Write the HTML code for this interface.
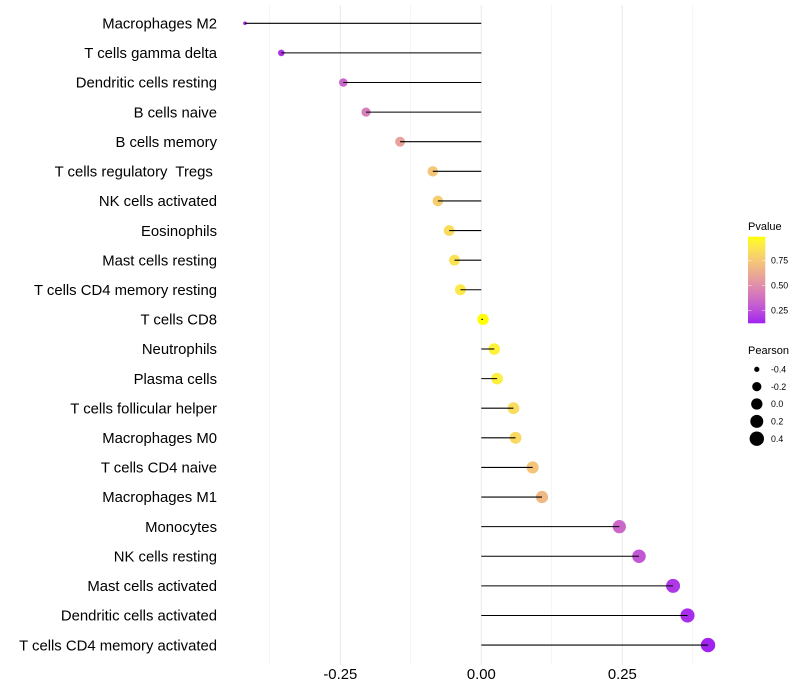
<!DOCTYPE html>
<html>
<head>
<meta charset="utf-8">
<title>Lollipop chart</title>
<style>
html,body{margin:0;padding:0;background:#fff;}
svg{display:block;font-family:"Liberation Sans",sans-serif;}
text{white-space:pre;}
</style>
</head>
<body>
<svg id="chart" width="800" height="700" viewBox="0 0 800 700" xmlns="http://www.w3.org/2000/svg">
<defs>
<linearGradient id="pg" x1="0" y1="1" x2="0" y2="0"></linearGradient>
</defs>
<g id="grid"></g>
<g id="points"></g>
<g id="stems"></g>
<g id="ylabels"></g>
<g id="xlabels"></g>
<g id="legend-color">
<text x="748" y="230" font-size="11" fill="#000">Pvalue</text>
<rect x="748" y="236.7" width="17.3" height="86.6" fill="url(#pg)"></rect>
</g>
<g id="legend-size">
<text x="748" y="354" font-size="11" fill="#000">Pearson</text>
</g>
</svg>
<script>
var categories = ["Macrophages M2","T cells gamma delta","Dendritic cells resting","B cells naive","B cells memory","T cells regulatory  Tregs ","NK cells activated","Eosinophils","Mast cells resting","T cells CD4 memory resting","T cells CD8","Neutrophils","Plasma cells","T cells follicular helper","Macrophages M0","T cells CD4 naive","Macrophages M1","Monocytes","NK cells resting","Mast cells activated","Dendritic cells activated","T cells CD4 memory activated"];
var pearson = [-0.419,-0.3546,-0.2447,-0.2044,-0.144,-0.086,-0.077,-0.057,-0.0475,-0.037,0.003,0.023,0.028,0.057,0.0607,0.091,0.1076,0.2447,0.2796,0.34,0.3656,0.402];
var pvalue = [0.12,0.17,0.34,0.43,0.58,0.74,0.77,0.83,0.86,0.89,0.986,0.93,0.915,0.83,0.82,0.73,0.68,0.34,0.28,0.18,0.15,0.125];
var majorTicks = [-0.25,0,0.25];
var minorTicks = [-0.375,-0.125,0.125,0.375];
var xTickLabels = ["-0.25","0.00","0.25"];
var colorTicks = [0.25,0.5,0.75];
var colorTickLabels = ["0.25","0.50","0.75"];
var sizeBreaks = [-0.4,-0.2,0,0.2,0.4];
var sizeLabels = ["-0.4","-0.2","0.0","0.2","0.4"];

var NS = "http://www.w3.org/2000/svg";
function xScale(v){ return 481.3 + 564 * v; }
function yScale(i){ return 23.28 + 29.61 * i; }
var sizeMin = -0.419, sizeMax = 0.402;
function rScale(p){
  var t = Math.min(1, Math.max(0, (p - sizeMin) / (sizeMax - sizeMin)));
  return 1.8 + 5.4 * Math.sqrt(t);
}
var pMin = 0.12, pMax = 0.986;
function cbY(p){ return 285.3 - (p - 0.5) * 100; }

function toLab(r,g,b){
  function f(c){ c/=255; return c<=0.04045? c/12.92 : Math.pow((c+0.055)/1.055,2.4); }
  var R=f(r),G=f(g),B=f(b);
  var X=(0.4124*R+0.3576*G+0.1805*B)/0.95047,Y=0.2126*R+0.7152*G+0.0722*B,Z=(0.0193*R+0.1192*G+0.9505*B)/1.08883;
  function h(t){ return t>0.008856? Math.cbrt(t) : 7.787*t+16/116; }
  return [116*h(Y)-16,500*(h(X)-h(Y)),200*(h(Y)-h(Z))];
}
function fromLab(L,a,b){
  var fy=(L+16)/116,fx=fy+a/500,fz=fy-b/200;
  function h(t){ return t*t*t>0.008856? t*t*t : (t-16/116)/7.787; }
  var X=h(fx)*0.95047,Y=h(fy),Z=h(fz)*1.08883;
  var R=3.2406*X-1.5372*Y-0.4986*Z,G=-0.9689*X+1.8758*Y+0.0415*Z,B=0.0557*X-0.204*Y+1.057*Z;
  function g(c){ c=c<=0.0031308?12.92*c:1.055*Math.pow(c,1/2.4)-0.055; return Math.round(Math.min(1,Math.max(0,c))*255); }
  return "rgb("+g(R)+","+g(G)+","+g(B)+")";
}
var labLow = toLab(160,32,240), labHigh = toLab(255,255,0);
function colorFor(p){
  var t=Math.min(1,Math.max(0,(p-pMin)/(pMax-pMin)));
  return fromLab(labLow[0]+(labHigh[0]-labLow[0])*t,labLow[1]+(labHigh[1]-labLow[1])*t,labLow[2]+(labHigh[2]-labLow[2])*t);
}
function make(tag,parentId,attrs,txt){
  var el=document.createElementNS(NS,tag);
  for(var k in attrs){ el.setAttribute(k,attrs[k]); }
  if(txt!==undefined){ el.textContent=txt; }
  document.getElementById(parentId).appendChild(el);
  return el;
}
var el;
minorTicks.forEach(function(v){
  el=make("line","grid",{x1:xScale(v),x2:xScale(v),y1:5,y2:665,stroke:"#ebebeb","stroke-width":0.55});
  
  
});
majorTicks.forEach(function(v){
  el=make("line","grid",{x1:xScale(v),x2:xScale(v),y1:5,y2:665,stroke:"#ebebeb","stroke-width":1.07});
  
  
});
categories.forEach(function(c,i){
  el=make("circle","points",{cx:xScale(pearson[i]),cy:yScale(i),r:rScale(pearson[i]),fill:colorFor(pvalue[i])});
  
  
  el=make("line","stems",{x1:xScale(0),x2:xScale(pearson[i]),y1:yScale(i),y2:yScale(i),stroke:"#000","stroke-width":1.07});
  
  
  el=make("text","ylabels",{x:217,y:yScale(i)+5.2,"text-anchor":"end","font-size":14.87,fill:"#000"},c);
  
  
});
majorTicks.forEach(function(v,i){
  el=make("text","xlabels",{x:xScale(v),y:679,"text-anchor":"middle","font-size":14.87,fill:"#000"},xTickLabels[i]);
  
  
});
var grad=document.getElementById("pg");
for(var s=0;s<=20;s++){
  var st=document.createElementNS(NS,"stop");
  st.setAttribute("offset",(s*5)+"%");
  st.setAttribute("stop-color",colorFor(pMin+(pMax-pMin)*s/20));
  grad.appendChild(st);
}
colorTicks.forEach(function(p,i){
  el=make("line","legend-color",{x1:748,x2:751.5,y1:cbY(p),y2:cbY(p),stroke:"#fff","stroke-opacity":0.8,"stroke-width":0.6});
  
  
  el=make("line","legend-color",{x1:761.8,x2:765.3,y1:cbY(p),y2:cbY(p),stroke:"#fff","stroke-opacity":0.8,"stroke-width":0.6});
  
  
  el=make("text","legend-color",{x:771,y:cbY(p)+3.1,"font-size":8.8,fill:"#000"},colorTickLabels[i]);
  
  
});
sizeBreaks.forEach(function(b,i){
  var cy=369.3+17.35*i;
  el=make("circle","legend-size",{cx:756.8,cy:cy,r:rScale(b),fill:"#000"});
  
  
  el=make("text","legend-size",{x:771,y:cy+3.1,"font-size":8.8,fill:"#000"},sizeLabels[i]);
  
  
});
</script>
</body>
</html>
